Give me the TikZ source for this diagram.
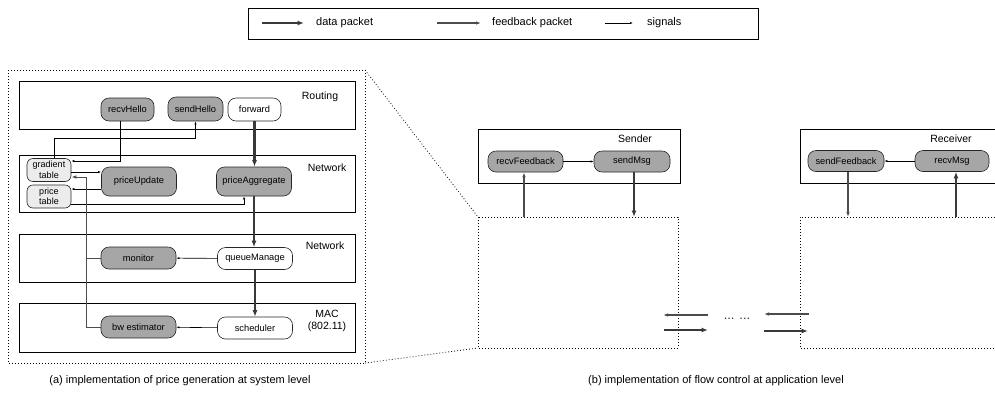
\documentclass[tikz,border=0pt]{standalone}
\usepackage{fontspec}
\setmainfont{Liberation Sans}
\usetikzlibrary{arrows.meta}

\begin{document}
\begin{tikzpicture}[x=1pt, y=-1pt,
    proc/.style={draw=black!85, line width=0.6pt, rounded corners=8pt, minimum width=75pt, minimum height=22pt, inner sep=1pt, font=\fontsize{9.3}{10}\selectfont},
    busy/.style={proc, fill=gray!70},
    idle/.style={proc, fill=white},
    tab/.style={proc, fill=gray!15, rounded corners=6pt, minimum width=44pt, minimum height=23pt, align=center, font=\fontsize{9}{10.5}\selectfont},
    layer/.style={draw, line width=0.7pt},
    tag/.style={font=\fontsize{10.5}{12}\selectfont, align=center, inner sep=1pt},
    zone/.style={draw, line width=0.8pt, dash pattern=on 0.8pt off 2.2pt},
    datapkt/.style={-{Latex[length=6.5pt,width=5pt]}, line width=2.6pt, draw=gray!45!black},
    fbpkt/.style={-{Latex[length=5pt,width=3.5pt]}, line width=1.2pt, draw=gray!60!black},
    signal/.style={-{Latex[length=3pt,width=2.2pt]}, line width=0.6pt},
    legend/.style={anchor=west, font=\fontsize{11}{12}\selectfont, inner sep=1pt},
    caption/.style={font=\fontsize{11}{13}\selectfont}]
  \useasboundingbox (0,0) rectangle (995,405);

  % legend
  \draw[line width=0.6pt] (248,8) rectangle (758,39);
  \coordinate (dataA) at (262,23);
  \coordinate (dataB) at (304,23);
  \coordinate (fbA) at (437,23);
  \coordinate (fbB) at (481,23);
  \coordinate (sigA) at (605,23);
  \coordinate (sigB) at (633,23);
  \draw[datapkt] (dataA) -- (dataB);
  \draw[fbpkt] (fbA) -- (fbB);
  \draw[signal] (sigA) -- (sigB);
  \node[legend] (dataText) at (315,23) {data packet};
  \node[legend] (fbText) at (491,23) {feedback packet};
  \node[legend] (sigText) at (646,23) {signals};

  % (a) system level
  \draw[zone] (8,70) rectangle (365,363);

  \draw[layer] (19,81) rectangle (355,129);
  \node[tag] (routingTag) at (320,97) {Routing};
  \node[busy, minimum width=53pt, minimum height=23pt] (recvHello) at (127.5,109.5) {recvHello};
  \node[busy, minimum width=55pt, minimum height=24pt] (sendHello) at (195.5,109) {sendHello};
  \node[idle, minimum width=53pt, minimum height=23pt] (forward) at (254.5,109.5) {forward};

  \draw[layer] (19,155) rectangle (355,212);
  \node[tag] (netTagA) at (327,168) {Network};
  \node[tab] (gradTab) at (49,170) {gradient\\table};
  \node[tab] (priceTab) at (49,196.5) {price\\table};
  \node[busy, minimum height=29pt] (priceUpdate) at (139,181.5) {priceUpdate};
  \node[busy, minimum height=29pt] (priceAgg) at (254,181.5) {priceAggregate};

  \draw[layer] (19,234) rectangle (355,282);
  \node[tag] (netTagB) at (325,246) {Network};
  \node[busy] (monitor) at (138.5,258) {monitor};
  \node[idle] (queueMgr) at (255,258.5) {queueManage};

  \draw[layer] (19,303) rectangle (355,352);
  \node[tag] (macTag) at (327,321) {MAC\\(802.11)};
  \node[busy] (bwEst) at (138.5,327) {bw estimator};
  \node[idle] (scheduler) at (255,328) {scheduler};

  \draw[datapkt] (forward.south) -- (forward.south |- priceAgg.north);
  \draw[datapkt] (priceAgg.south) -- (priceAgg.south |- queueMgr.north);
  \draw[datapkt] (queueMgr.south) -- (queueMgr.south |- scheduler.north);

  \draw[signal] ([xshift=-7.5]recvHello.south) |- ([yshift=9]gradTab.east);
  \draw[signal] ([xshift=5]gradTab.north) |- ([yshift=-17]sendHello.south) -- (sendHello.south);
  \draw[signal] ([yshift=-2]gradTab.east) -- ([yshift=-2]gradTab.east -| priceUpdate.west);
  \draw[signal] ([yshift=-7.5]priceUpdate.west) -- ([yshift=-7.5]priceUpdate.west -| priceTab.east);
  \draw[signal] ([yshift=-7.5]priceTab.east) -| ([xshift=-10]priceAgg.south);
  \draw[signal] (queueMgr) -- (monitor);
  \draw[signal] (scheduler) -- (bwEst);

  \coordinate (fbBus) at (86,0);
  \draw[fbpkt, line width=1pt] (bwEst.west) -| ([yshift=-7]gradTab.east -| fbBus) -- ([yshift=-7]gradTab.east);
  \draw[line width=1pt, gray!60!black] (monitor.west) -- (monitor.west -| fbBus);

  % zoom lines
  \draw[zone] (365,70) -- (478,217);
  \draw[zone] (365,363) -- (478,348);

  % (b) application level
  \draw[zone] (478,217) rectangle (678,348);
  \draw[zone] (995,217) -- (800,217) -- (800,348) -- (995,348);

  \draw[layer] (478,129) rectangle (680,183);
  \node[tag] (senderTag) at (635,139) {Sender};
  \node[busy, minimum height=21pt] (recvFb) at (525.5,161.5) {recvFeedback};
  \node[busy, minimum width=76pt, minimum height=21pt] (sendMsg) at (632,161.5) {sendMsg};
  \draw[signal] (recvFb) -- (sendMsg);
  \coordinate (fbIn) at (524,217);
  \coordinate (dataOut) at (634,217);
  \draw[fbpkt] (fbIn) -- (fbIn |- recvFb.south);
  \draw[datapkt] (dataOut |- sendMsg.south) -- (dataOut);

  \draw[layer] (995,129) -- (800,129) -- (800,183) -- (995,183);
  \node[tag] (receiverTag) at (951,139) {Receiver};
  \node[busy, minimum width=76pt, minimum height=21pt] (sendFb) at (846,161) {sendFeedback};
  \node[busy, minimum width=74pt, minimum height=21pt] (recvMsg) at (952,161) {recvMsg};
  \draw[signal] (recvMsg) -- (sendFb);
  \coordinate (fbOut) at (848,217);
  \coordinate (dataIn) at (956,217);
  \draw[fbpkt] (fbOut |- sendFb.south) -- (fbOut);
  \draw[datapkt] (dataIn) -- (dataIn |- recvMsg.south);

  % links between the two ends
  \coordinate (fbLA) at (708,315);
  \coordinate (fbLB) at (663,315);
  \coordinate (dLA) at (664,330);
  \coordinate (dLB) at (708,330);
  \coordinate (fbRA) at (809,314);
  \coordinate (fbRB) at (764,314);
  \coordinate (dRA) at (764,331);
  \coordinate (dRB) at (808,331);
  \draw[fbpkt] (fbLA) -- (fbLB);
  \draw[datapkt] (dLA) -- (dLB);
  \draw[fbpkt] (fbRA) -- (fbRB);
  \draw[datapkt] (dRA) -- (dRB);
  \node[font=\fontsize{13}{14}\selectfont, gray!40!black] (hops) at (737,319) {... ...};

  % captions
  \node[caption] (capA) at (180,381) {(a) implementation of price generation at system level};
  \node[caption] (capB) at (716,381) {(b) implementation of flow control at application level};
\end{tikzpicture}
\end{document}
